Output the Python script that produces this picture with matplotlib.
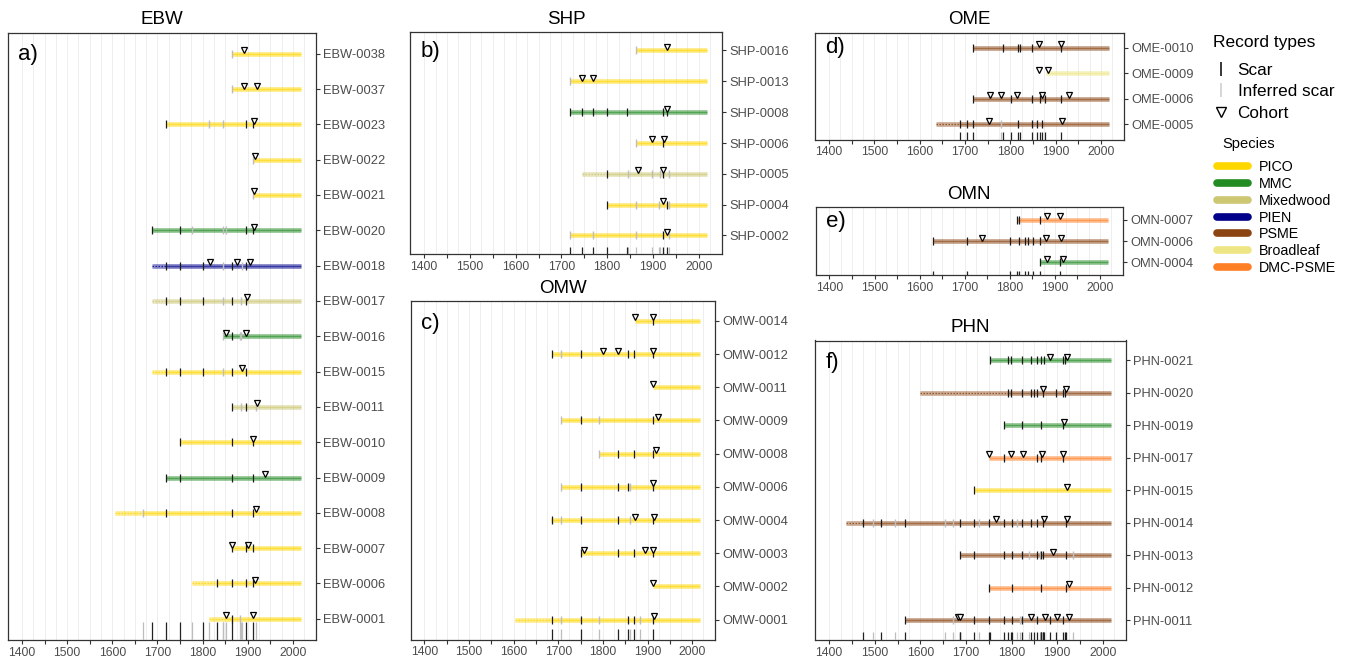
import matplotlib
matplotlib.use("Agg")
import matplotlib.pyplot as plt
from matplotlib.lines import Line2D
from matplotlib.transforms import offset_copy, blended_transform_factory

plt.rcParams["font.family"] = ["Liberation Sans", "DejaVu Sans"]

END = 2018
SPECIES = ["PICO", "MMC", "Mixedwood", "PIEN", "PSME", "Broadleaf", "DMC-PSME"]
SP_COLORS = ["#FFD700", "#228B22", "#CDC673", "#00008B", "#8B4513", "#EEE685", "#FF7F24"]

# rows are listed top to bottom; "first" = first recording year (solid line from there)
# ---- a) EBW ----
ebw_ids = ["EBW-0038", "EBW-0037", "EBW-0023", "EBW-0022", "EBW-0021", "EBW-0020", "EBW-0018", "EBW-0017",
           "EBW-0016", "EBW-0015", "EBW-0011", "EBW-0010", "EBW-0009", "EBW-0008", "EBW-0007", "EBW-0006", "EBW-0001"]
ebw_sp = ["PICO", "PICO", "PICO", "PICO", "PICO", "MMC", "PIEN", "Mixedwood", "MMC", "PICO", "Mixedwood",
          "PICO", "MMC", "PICO", "PICO", "PICO", "PICO"]
ebw_inner = [1864, 1864, 1718, 1912, 1912, 1688, 1688, 1688, 1845, 1688, 1864, 1749, 1718, 1605, 1864, 1777, 1814]
ebw_first = [1864, 1864, 1718, 1912, 1912, 1688, 1718, 1718, 1845, 1718, 1864, 1749, 1718, 1668, 1864, 1832, 1851]
ebw_scar = [[], [], [1718, 1896, 1912], [], [], [1688, 1749, 1896, 1912], [1718, 1749, 1801, 1864, 1896],
            [1718, 1749, 1801, 1864, 1896], [1864], [1718, 1749, 1801, 1864, 1896], [1864, 1896],
            [1749, 1864, 1912], [1718, 1749, 1864, 1912], [1718, 1864, 1912], [1864, 1896, 1912],
            [1832, 1864, 1896, 1912], [1864]]
ebw_inf = [[1864], [1864], [1814, 1846], [1912], [1912], [1777, 1845, 1852], [1845, 1887], [1845, 1886],
           [1845, 1882, 1886], [1845], [1886, 1919], [], [], [1668], [], [], [1882]]
ebw_coh = [[1892], [1892, 1921], [1913], [1916], [1914], [1913], [1817, 1876, 1904], [1898], [1851, 1895],
           [1887], [1921], [1912], [1938], [1918], [1866, 1900], [1915], [1851, 1912]]

# ---- b) SHP ----
shp_ids = ["SHP-0016", "SHP-0013", "SHP-0008", "SHP-0006", "SHP-0005", "SHP-0004", "SHP-0002"]
shp_sp = ["PICO", "PICO", "MMC", "PICO", "Mixedwood", "PICO", "PICO"]
shp_inner = [1864, 1719, 1719, 1864, 1744, 1800, 1719]
shp_first = [1864, 1719, 1719, 1864, 1800, 1800, 1719]
shp_scar = [[], [], [1719, 1744, 1768, 1800, 1844, 1921, 1930], [1921], [1800, 1921], [1800, 1930], [1921]]
shp_inf = [[1864], [1719], [], [1864], [1846, 1897, 1915, 1936], [1864, 1914, 1936], [1719, 1768, 1864, 1936]]
shp_coh = [[1930], [1744, 1768], [1930], [1899, 1924], [1868, 1921], [1923], [1930]]

# ---- c) OMW ----
omw_ids = ["OMW-0014", "OMW-0012", "OMW-0011", "OMW-0009", "OMW-0008", "OMW-0006", "OMW-0004", "OMW-0003",
           "OMW-0002", "OMW-0001"]
omw_sp = ["PICO"] * 10
omw_inner = [1872, 1687, 1913, 1706, 1792, 1706, 1684, 1751, 1912, 1603]
omw_first = [1872, 1687, 1913, 1706, 1792, 1706, 1684, 1751, 1912, 1687]
omw_scar = [[1912], [1687, 1751, 1856, 1870, 1912], [], [1751, 1912], [1833, 1870, 1912], [1751, 1833, 1856, 1912],
            [1687, 1751, 1833, 1912], [1751, 1833, 1870, 1912], [], [1687, 1751, 1856, 1870, 1912]]
omw_inf = [[], [1706], [], [1706, 1792], [1792], [1706, 1860], [1706, 1860], [], [], [1706, 1792, 1883]]
omw_coh = [[1872, 1912], [1800, 1833, 1912], [1913], [1923], [1918], [1913], [1872, 1915], [1758, 1894, 1913],
           [1912], [1915]]

# ---- d) OME ----
ome_ids = ["OME-0010", "OME-0009", "OME-0006", "OME-0005"]
ome_sp = ["PSME", "Broadleaf", "PSME", "PSME"]
ome_inner = [1718, 1878, 1718, 1635]
ome_first = [1718, 1878, 1718, 1689]
ome_scar = [[1718, 1785, 1816, 1821, 1847, 1911], [], [1718, 1801, 1847, 1866, 1876, 1911],
            [1689, 1704, 1718, 1816, 1847, 1860, 1871]]
ome_inf = [[], [], [], [1779]]
ome_coh = [[1863, 1911], [1863, 1883], [1755, 1780, 1815, 1871, 1929], [1754, 1915]]

# ---- e) OMN ----
omn_ids = ["OMN-0007", "OMN-0006", "OMN-0004"]
omn_sp = ["DMC-PSME", "PSME", "MMC"]
omn_inner = [1816, 1629, 1866]
omn_first = [1816, 1629, 1866]
omn_scar = [[1816, 1821, 1866], [1629, 1705, 1801, 1821, 1833, 1841, 1851, 1866], [1866, 1911]]
omn_inf = [[], [], []]
omn_coh = [[1883, 1911], [1739, 1880, 1913], [1883, 1917]]

# ---- f) PHN ----
phn_ids = ["PHN-0021", "PHN-0020", "PHN-0019", "PHN-0017", "PHN-0015", "PHN-0014", "PHN-0013", "PHN-0012",
           "PHN-0011"]
phn_sp = ["MMC", "PSME", "MMC", "DMC-PSME", "PICO", "PSME", "PSME", "DMC-PSME", "PSME"]
phn_inner = [1753, 1599, 1784, 1751, 1718, 1436, 1686, 1751, 1566]
phn_first = [1753, 1793, 1784, 1751, 1718, 1475, 1686, 1751, 1566]
phn_scar = [[1753, 1793, 1798, 1824, 1843, 1855, 1864, 1872, 1912, 1918],
            [1793, 1798, 1824, 1843, 1850, 1855, 1870, 1897, 1912, 1918],
            [1784, 1824, 1864, 1912], [1784, 1855, 1864, 1912], [1718],
            [1475, 1514, 1566, 1688, 1718, 1751, 1784, 1800, 1824, 1843, 1855, 1870, 1919],
            [1686, 1718, 1784, 1800, 1824, 1855, 1865, 1869, 1919], [1751, 1800, 1864, 1919],
            [1566, 1718, 1751, 1784, 1800, 1824, 1855, 1884, 1912]]
phn_inf = [[], [], [], [], [], [1497, 1544, 1654, 1672, 1729, 1813], [1839, 1862, 1934], [], [1672, 1818]]
phn_coh = [[1884, 1921], [1870, 1919], [1914], [1751, 1798, 1826, 1867, 1912], [1921], [1767, 1871, 1921],
           [1892], [1925], [1683, 1688, 1842, 1873, 1899, 1925]]

W, H = 1349, 658
fig = plt.figure(figsize=(W / 100, H / 100), dpi=100)


def px_axes(x0, x1, y0, y1):
    return fig.add_axes([x0 / W, 1 - y1 / H, (x1 - x0) / W, (y1 - y0) / H])


def draw_panel(ax, title, tag, tag_dy, rug_h, ids, sp, inner, first, scar, inf, coh):
    n = len(ids)
    ys = list(range(n, 0, -1))
    up = offset_copy(ax.transData, fig=fig, x=0, y=3.5, units="dots")
    for y, s, i0, f0, sc, ic, co in zip(ys, sp, inner, first, scar, inf, coh):
        col = SP_COLORS[SPECIES.index(s)]
        if i0 < f0:
            ax.plot([i0, f0], [y, y], color=col, lw=3.4, alpha=0.45, solid_capstyle="butt", zorder=2)
            ax.plot([i0, f0], [y, y], color=col, lw=0.9, alpha=0.8, ls=(0, (1.2, 1.2)), zorder=3)
        ax.plot([f0, END], [y, y], color=col, lw=3.4, alpha=0.5, solid_capstyle="butt", zorder=2)
        ax.plot([f0, END], [y, y], color=col, lw=1.0, alpha=0.55, solid_capstyle="butt", zorder=3)
        ax.plot(ic, [y] * len(ic), ls="none", marker="|", color="#BDBDBD", ms=6, mew=1.0, zorder=4)
        ax.plot(sc, [y] * len(sc), ls="none", marker="|", color="#1A1A1A", ms=6, mew=0.9, zorder=5)
        ax.plot(co, [y] * len(co), ls="none", marker="v", mfc="white", mec="black", ms=5.0, mew=0.9,
                zorder=6, transform=up)
    # composite rug of all scar / inferred-scar years
    all_sc = sorted({v for r in scar for v in r})
    all_inf = sorted({v for r in inf for v in r} - set(all_sc))
    bt = blended_transform_factory(ax.transData, ax.transAxes)
    ax.vlines(all_inf, 0, rug_h, transform=bt, colors="#BDBDBD", lw=0.9, zorder=3)
    ax.vlines(all_sc, 0, rug_h, transform=bt, colors="#222222", lw=0.9, zorder=3)

    ax.set_xlim(1369, 2051)
    ax.set_ylim(0.4, n + 0.6)
    ax.set_yticks(ys)
    ax.set_yticklabels(ids)
    ax.yaxis.tick_right()
    xt = list(range(1400, 2001, 50))
    ax.set_xticks(xt)
    ax.set_xticklabels([str(v) if v % 100 == 0 else "" for v in xt])
    ax.set_xticks(list(range(1400, 2026, 25)), minor=True)
    ax.tick_params(which="minor", length=0)
    ax.tick_params(which="major", length=3, width=0.8, color="#333333", labelcolor="#4D4D4D", pad=2)
    ax.tick_params(axis="x", labelsize=8.8)
    ax.tick_params(axis="y", labelsize=9.3)
    ax.grid(axis="x", which="both", color="#EBEBEB", lw=0.6)
    ax.set_axisbelow(True)
    for s in ax.spines.values():
        s.set_color("#333333")
        s.set_linewidth(0.9)
    ax.set_title(title, fontsize=13.5, pad=6)
    ax.annotate(tag, xy=(0, 1), xycoords="axes fraction", xytext=(7.5, -tag_dy * 0.72),
                textcoords="offset points", fontsize=16, ha="left", va="center")


draw_panel(px_axes(8, 316, 32.5, 640), "EBW", "a)", 22, 0.03,
           ebw_ids, ebw_sp, ebw_inner, ebw_first, ebw_scar, ebw_inf, ebw_coh)
draw_panel(px_axes(410, 722, 32, 254), "SHP", "b)", 20, 0.03,
           shp_ids, shp_sp, shp_inner, shp_first, shp_scar, shp_inf, shp_coh)
draw_panel(px_axes(410.5, 715, 301, 639.5), "OMW", "c)", 22, 0.03,
           omw_ids, omw_sp, omw_inner, omw_first, omw_scar, omw_inf, omw_coh)
draw_panel(px_axes(815, 1124, 32.5, 139.5), "OME", "d)", 15, 0.07,
           ome_ids, ome_sp, ome_inner, ome_first, ome_scar, ome_inf, ome_coh)
draw_panel(px_axes(815.5, 1123, 207, 275), "OMN", "e)", 15, 0.06,
           omn_ids, omn_sp, omn_inner, omn_first, omn_scar, omn_inf, omn_coh)
draw_panel(px_axes(815, 1126, 340.5, 640), "PHN", "f)", 22, 0.027,
           phn_ids, phn_sp, phn_inner, phn_first, phn_scar, phn_inf, phn_coh)

# legends (titles as separate text so their gap to the entries can be matched)
fig.text(1213 / W, 1 - 43 / H, "Record types", fontsize=12.5, ha="left", va="center")
rec_handles = [Line2D([], [], ls="none", marker="|", color="black", ms=10, mew=1.1),
               Line2D([], [], ls="none", marker="|", color="#CCCCCC", ms=10, mew=1.1),
               Line2D([], [], ls="none", marker="v", mfc="white", mec="black", ms=7, mew=1.0)]
fig.legend(rec_handles, ["Scar", "Inferred scar", "Cohort"], loc="upper left",
           bbox_to_anchor=(1212 / W, 1 - 63 / H), frameon=False, fontsize=12.3, handlelength=1.0,
           handletextpad=0.5, labelspacing=0.37, borderpad=0, borderaxespad=0, numpoints=1)

fig.text(1222 / W, 1 - 144 / H, "Species", fontsize=10.6, ha="left", va="center")
sp_handles = [Line2D([], [], color=c, lw=5.5, solid_capstyle="round") for c in SP_COLORS]
fig.legend(sp_handles, SPECIES, loc="upper left", bbox_to_anchor=(1217 / W, 1 - 160 / H), frameon=False,
           fontsize=10.3, handlelength=2.2, handletextpad=0.7, labelspacing=0.2, borderpad=0,
           borderaxespad=0)

fig.savefig("out.png", dpi=100)
